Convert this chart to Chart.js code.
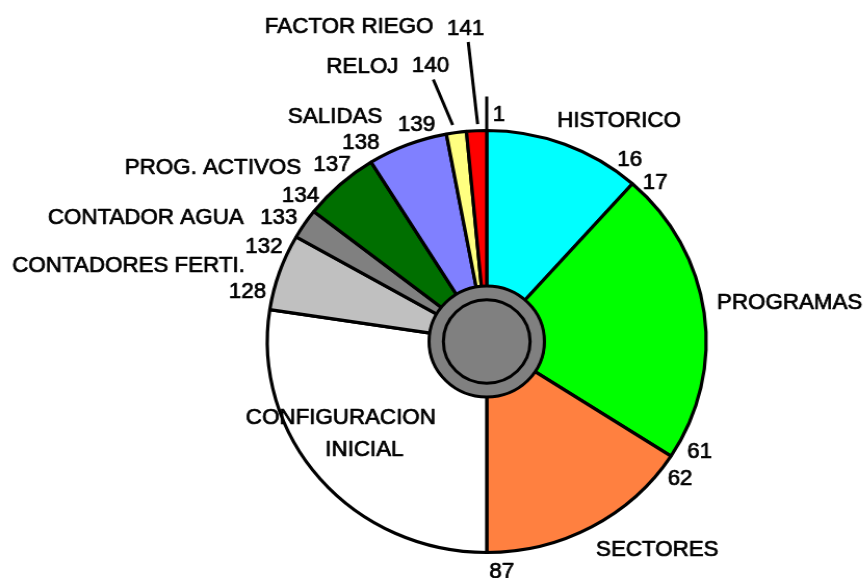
<!DOCTYPE html>
<html>
<head>
<meta charset="utf-8">
<script src="https://cdn.jsdelivr.net/npm/chart.js@4.4.1/dist/chart.umd.min.js"></script>
<style>
  html, body { margin: 0; padding: 0; background: #fff; overflow: hidden; }
  /* the source picture is a little wider than tall, so stretch the canvas */
  #memChart { transform: scale(1.04, 1); transform-origin: 0 0; }
</style>
</head>
<body>
<canvas id="memChart" width="832" height="578"></canvas>
<script>
const SECTIONS = ['HISTORICO', 'PROGRAMAS', 'SECTORES', 'CONFIGURACION INICIAL', 'CONTADORES FERTI.',
                  'CONTADOR AGUA', 'PROG. ACTIVOS', 'SALIDAS', 'RELOJ', 'FACTOR RIEGO'];
const SHARES = [41.6, 81.3, 57.1, 98.7, 21.0, 8.3, 20.2, 21.2, 5.3, 5.3];
const FIRST_ADDR = [1, 17, 62, null, 128, 133, 134, 138, 140, 141];
const LAST_ADDR = [16, 61, 87, null, 132, null, 137, 139, null, null];
const COLORS = ['#00ffff', '#00ff00', '#ff8040', '#ffffff', '#c0c0c0',
                '#808080', '#006f00', '#8080ff', '#ffff80', '#ff0000'];

// label placement: [degrees from anchor angle, distance from centre at radius 211]
const NAME_SPOTS = [
  [[9.0, 256]], [[-0.15, 294]], [[-9.85, 264]], [[12.55, 159], [-1.65, 159]], [[-6.5, 353]],
  [[-12.95, 351]], [[-14.5, 316]], [[-11.6, 269]], [[-15.45, 301]], [[-20.05, 343]]
];
// first address: relative to start of slice, last address: relative to end of slice
const FIRST_SPOTS = [[2.95, 229], [3.7, 228], [3.2, 230], null, [3.75, 235.5],
                     [2.4, 236], [1.35, 231.5], [0.6, 233.5], [-0.45, 282], [1.6, 315]];
const LAST_SPOTS = [[-4.7, 229], [-4.8, 232], [-3.6, 229], null, [-5.5, 235],
                    null, [-8.1, 232], [-6.6, 228.5], null, null];
// leader lines for the thin slices: [from deg, from dist, to deg, to dist] relative to slice start
const LEADERS = {8: [2.0, 219, -0.5, 267], 9: [3.0, 217.5, 1.9, 300]};

const RAD = Math.PI / 180;

function spot(arc, base, dDeg, dist) {
    const a = base + dDeg * RAD;
    const r = dist * arc.outerRadius / 211;
    return [arc.x + r * Math.cos(a), arc.y + r * Math.sin(a)];
}

const labelPlugin = {
    id: 'memLabels',
    afterDatasetsDraw(chart) {
        const ctx = chart.ctx;
        const arcs = chart.getDatasetMeta(0).data;
        const first = arcs[0];

        ctx.save();
        // centre hub
        ctx.lineWidth = 3;
        ctx.strokeStyle = '#000';
        ctx.fillStyle = '#808080';
        ctx.beginPath();
        ctx.arc(first.x, first.y, first.innerRadius + 0.6, 0, Math.PI * 2);
        ctx.fill();
        ctx.stroke();
        ctx.beginPath();
        ctx.arc(first.x, first.y, first.innerRadius * 0.76, 0, Math.PI * 2);
        ctx.stroke();

        // tick at the top where the numbering starts
        let p1 = spot(first, first.startAngle, 0, 211);
        let p2 = spot(first, first.startAngle, 0, 245);
        ctx.beginPath();
        ctx.moveTo(p1[0], p1[1]);
        ctx.lineTo(p2[0], p2[1]);
        ctx.stroke();

        Object.keys(LEADERS).forEach(k => {
            const arc = arcs[k];
            const l = LEADERS[k];
            const a = spot(arc, arc.startAngle, l[0], l[1]);
            const b = spot(arc, arc.startAngle, l[2], l[3]);
            ctx.beginPath();
            ctx.moveTo(a[0], a[1]);
            ctx.lineTo(b[0], b[1]);
            ctx.stroke();
        });

        ctx.fillStyle = '#000';
        ctx.font = '21.5px "Liberation Sans", Arial, sans-serif';
        ctx.textAlign = 'center';
        ctx.textBaseline = 'alphabetic';
        ctx.lineWidth = 0.7;
        ctx.lineJoin = 'round';
        const put = (text, p) => {
            ctx.fillText(String(text), p[0], p[1] + 7.7);
            ctx.strokeText(String(text), p[0], p[1] + 7.7);
        };

        arcs.forEach((arc, i) => {
            const mid = (arc.startAngle + arc.endAngle) / 2;
            const spots = NAME_SPOTS[i];
            const lines = spots.length > 1 ? SECTIONS[i].split(' ') : [SECTIONS[i]];
            lines.forEach((line, j) => put(line, spot(arc, mid, spots[j][0], spots[j][1])));
            if (FIRST_ADDR[i] !== null && FIRST_SPOTS[i]) {
                put(FIRST_ADDR[i], spot(arc, arc.startAngle, FIRST_SPOTS[i][0], FIRST_SPOTS[i][1]));
            }
            if (LAST_ADDR[i] !== null && LAST_SPOTS[i]) {
                put(LAST_ADDR[i], spot(arc, arc.endAngle, LAST_SPOTS[i][0], LAST_SPOTS[i][1]));
            }
        });
        ctx.restore();
    }
};

new Chart(document.getElementById('memChart'), {
    type: 'doughnut',
    data: {
        labels: SECTIONS,
        datasets: [{
            data: SHARES,
            backgroundColor: COLORS,
            borderColor: '#000',
            borderWidth: 3.2
        }]
    },
    options: {
        responsive: false,
        animation: false,
        events: [],
        radius: 211,
        cutout: '26%',
        layout: { padding: { left: 104, top: 105, right: 0, bottom: 0 } },
        plugins: { legend: { display: false }, tooltip: { enabled: false } }
    },
    plugins: [labelPlugin]
});
</script>
</body>
</html>
